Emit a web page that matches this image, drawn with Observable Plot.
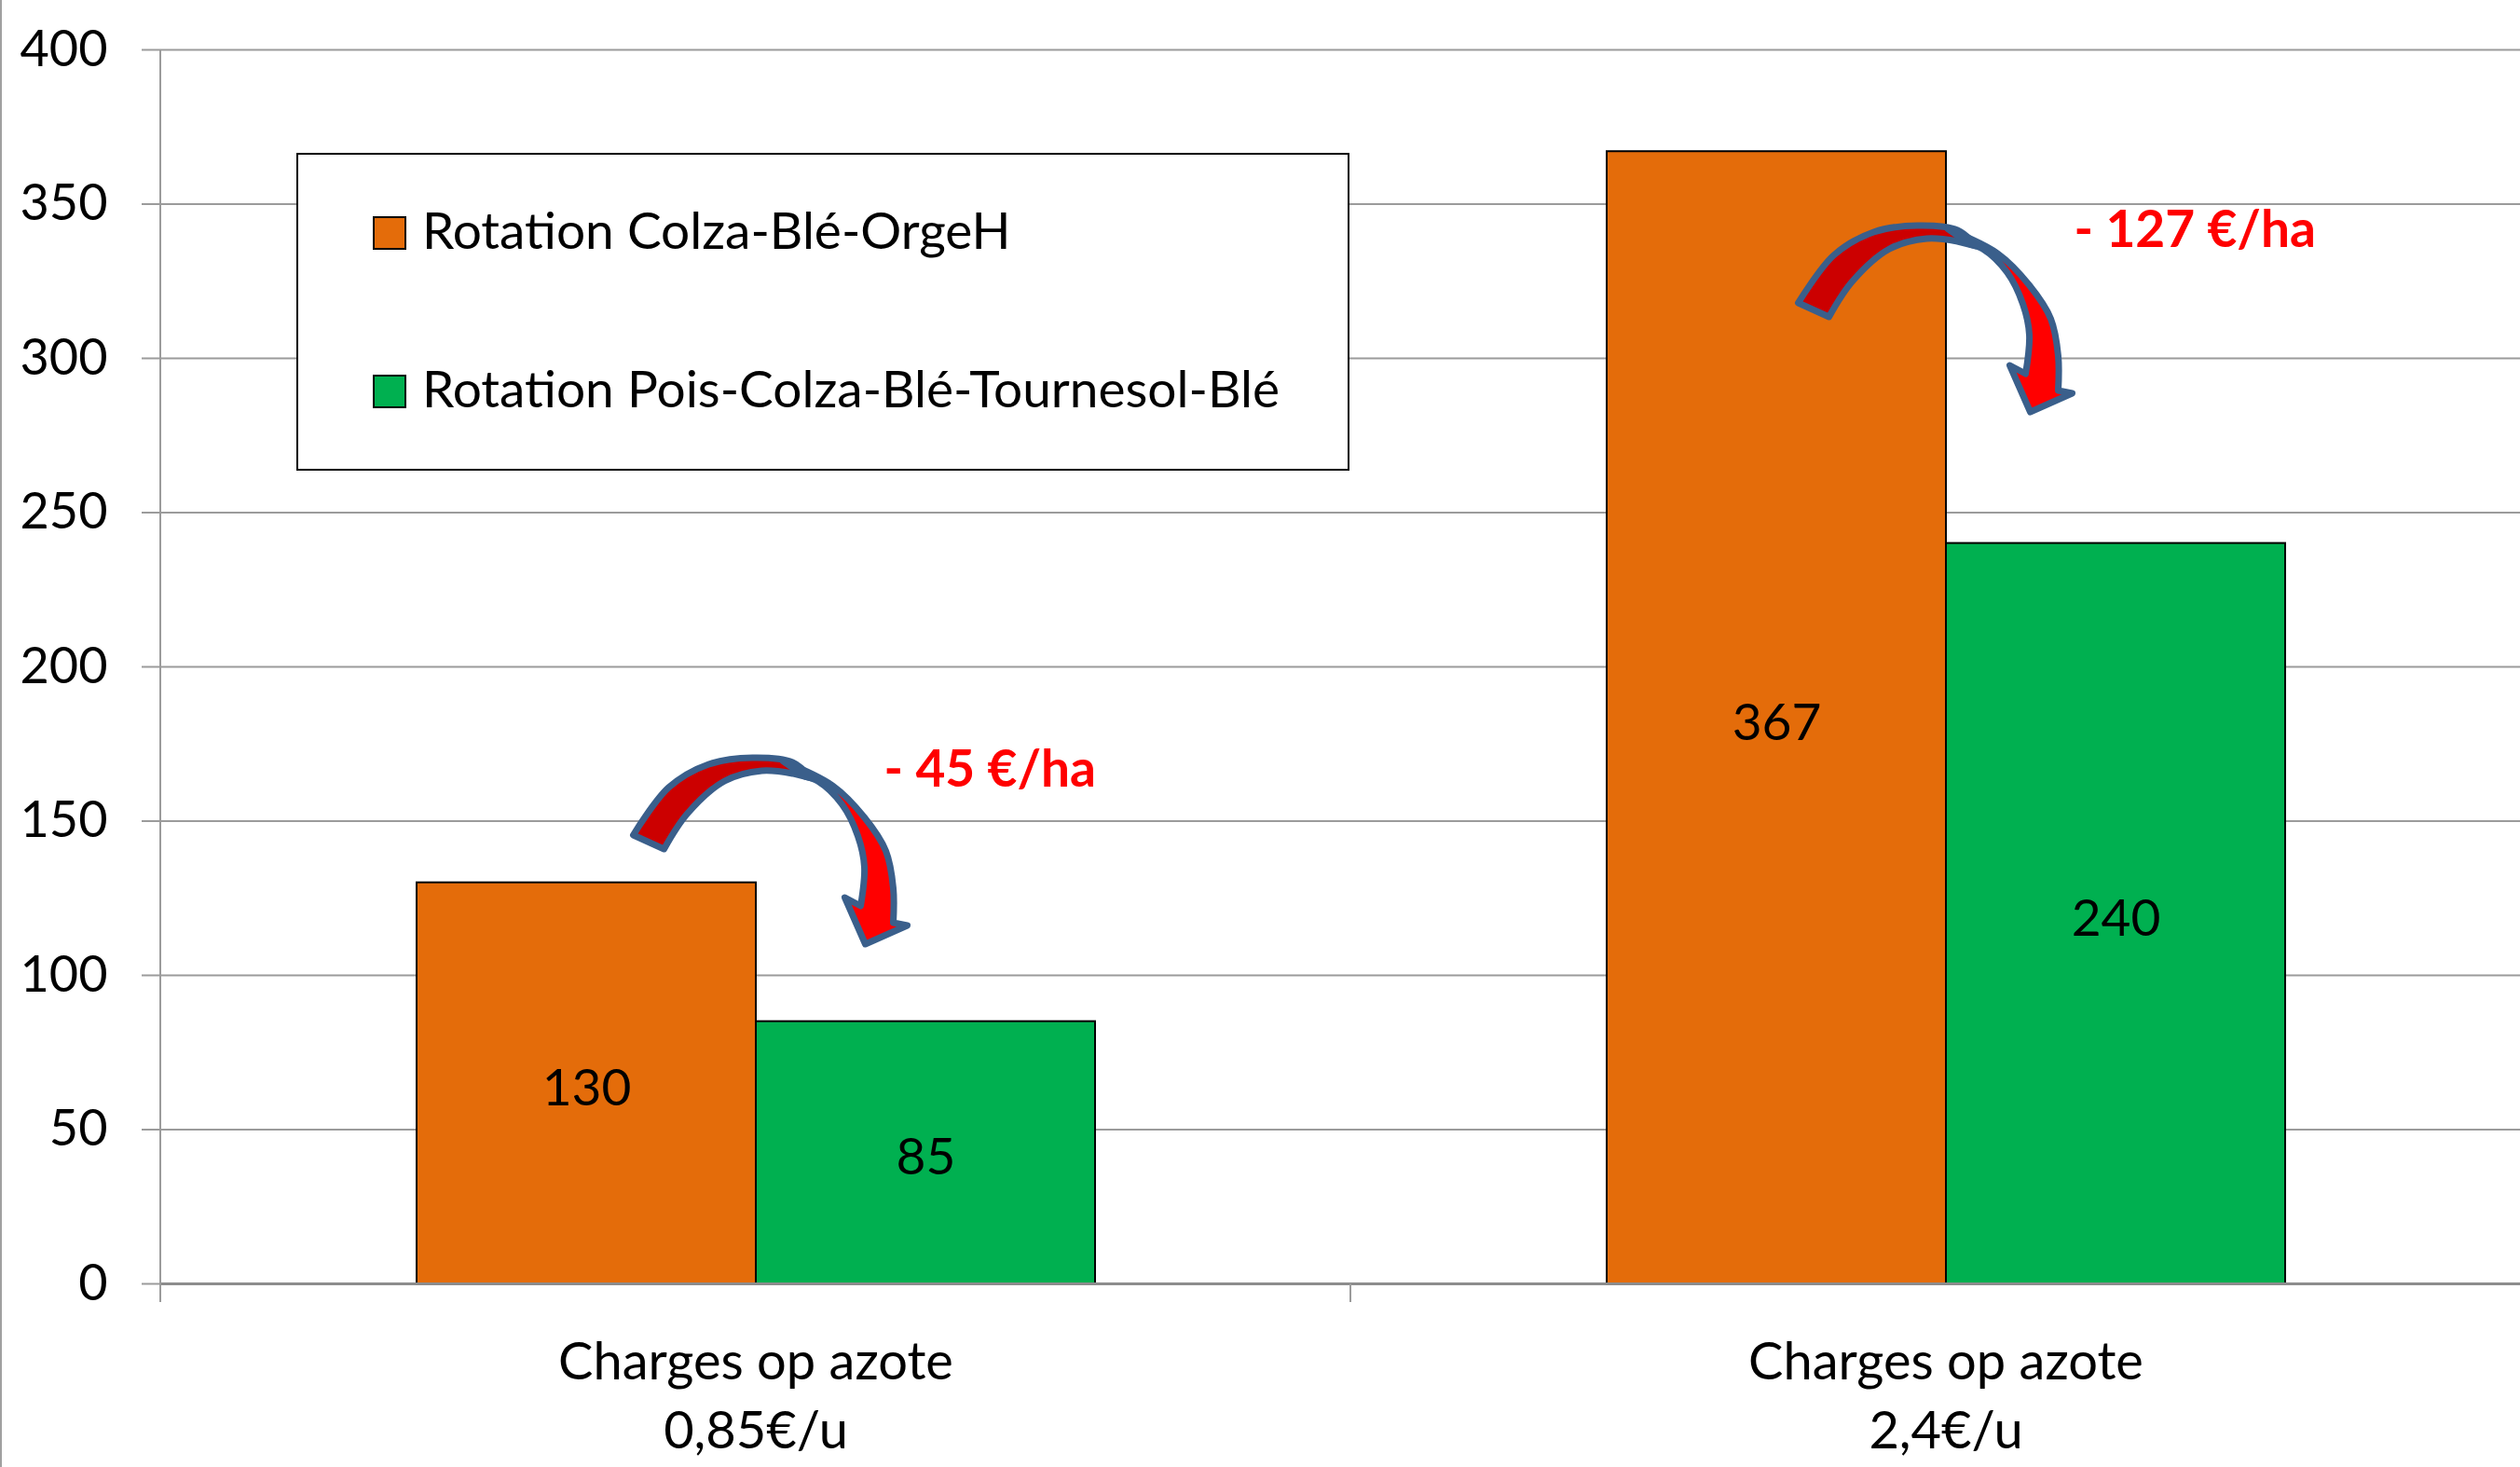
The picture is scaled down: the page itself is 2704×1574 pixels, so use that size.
<!DOCTYPE html>
<html>
<head>
<meta charset="utf-8">
<script src="https://cdn.jsdelivr.net/npm/d3@7"></script>
<script src="https://cdn.jsdelivr.net/npm/@observablehq/plot@0.6"></script>
<style>
  html, body { margin: 0; padding: 0; background: #fff; }
  #chart { position: relative; width: 2704px; height: 1574px; overflow: hidden; }
  #chart svg { display: block; }
</style>
</head>
<body>
<div id="chart"></div>
<script>
// ---- Data ----
const categories = ["Charges op azote\n0,85€/u", "Charges op azote\n2,4€/u"];
const series = ["Rotation Colza-Blé-OrgeH", "Rotation Pois-Colza-Blé-Tournesol-Blé"];
const colzaValues = [130, 367];
const poisValues = [85, 240];
const seriesColors = ["#E46C0A", "#00B050"];
const yTicks = [0, 50, 100, 150, 200, 250, 300, 350, 400];
const diffLabels = ["- 45 €/ha", "- 127 €/ha"];
const diffLabelY = [166.5, 341.5];   // value level of the difference label
const arrowTopY = [170.4, 342.9];    // value level of the top of each curved arrow
const arrowShift = [-4, -31];        // horizontal shift of arrow from group centre (px)

const rows = categories.flatMap((c, i) => [
  {category: c, series: series[0], value: colzaValues[i]},
  {category: c, series: series[1], value: poisValues[i]}
]);
const annotations = categories.map((c, i) => ({category: c, label: diffLabels[i], y: diffLabelY[i]}));

const FONT = "Lato, 'Open Sans', sans-serif";
const GRID = "#9b9b9b";

const chart = Plot.plot({
  width: 2704,
  height: 1574,
  marginTop: 53,
  marginBottom: 197,
  marginLeft: 172,
  marginRight: 0,
  style: {fontFamily: FONT, background: "white", color: "black"},
  fx: {domain: categories, range: [172, 2726], padding: 0, axis: null},
  x: {domain: series, paddingInner: 0, paddingOuter: 0.754, axis: null},
  y: {domain: [0, 400], axis: null},
  color: {domain: series, range: seriesColors},
  marks: [
    Plot.gridY(yTicks, {stroke: GRID, strokeOpacity: 1, strokeWidth: 2}),
    Plot.axisY(yTicks, {anchor: "left", tickSize: 20, tickPadding: 37, stroke: GRID, strokeWidth: 2,
      fill: "black", fontSize: 54, label: null, tickFormat: d => String(d)}),
    Plot.barY(rows, {fx: "category", x: "series", y: "value", fill: "series",
      stroke: "black", strokeWidth: 2, inset: 0}),
    Plot.ruleY([0], {stroke: "#8c8c8c", strokeWidth: 3}),
    Plot.text(rows, {fx: "category", x: "series", y: d => d.value / 2, text: d => String(d.value),
      fontSize: 55, fill: "black", dy: 6}),
    Plot.text(categories, {fx: d => d, text: d => d, frameAnchor: "bottom", lineAnchor: "top",
      dy: 50, lineHeight: 1.32, fontSize: 56, fill: "black"}),
    Plot.text(annotations, {fx: "category", x: () => series[1], y: "y", text: "label",
      textAnchor: "start", dx: -45, fill: "#FF0000", fontWeight: "bold", fontSize: 55})
  ]
});

document.getElementById("chart").appendChild(chart);

// ---- Decorations derived from the library's scales ----
const svg = d3.select(chart);
const fxD = chart.scale("fx");
const yD = chart.scale("y");
const fx = d3.scaleBand(fxD.domain, fxD.range)
  .paddingInner(fxD.paddingInner ?? 0).paddingOuter(fxD.paddingOuter ?? 0).align(fxD.align ?? 0.5);
const y = d3.scaleLinear(yD.domain, yD.range);

// axis lines: vertical y-axis line, and category boundary ticks
const y0 = y(0), yTop = y(400);
const r0 = fx.range()[0];
svg.append("line").attr("x1", r0).attr("x2", r0).attr("y1", yTop).attr("y2", y0 + 20)
  .attr("stroke", GRID).attr("stroke-width", 2);
for (let i = 1; i < categories.length; i++) {
  const bx = fx(categories[i]) - fx.step() * fx.paddingInner() / 2;
  svg.append("line").attr("x1", bx).attr("x2", bx).attr("y1", y0).attr("y2", y0 + 20)
    .attr("stroke", GRID).attr("stroke-width", 2);
}

// curved arrows (relative to top-outer point)
const line = d3.line().curve(d3.curveCatmullRom.alpha(0.5));
const darkOuter = [[-127,83],[-89,32],[-46,7],[1,0],[44,5],[64,22]];
const darkInner = [[-94,98],[-69,60],[-29,25],[11,14],[44,17]];
const brightOuter = [[34,4],[87,30],[121,64],[144,100],[152,140],[152,177]];
const brightHead = [[167,180],[122,200],[100,150]];
const brightInner = [[117,159],[121,117],[114,84],[97,50],[71,25],[57,20]];
function piece(outer, inner, mid) {
  let d = line(outer);
  if (mid) d += mid.map(p => "L" + p[0] + "," + p[1]).join("");
  d += line(inner).replace(/^M/, "L") + "Z";
  return d;
}
const darkPath = piece(darkOuter, darkInner.slice().reverse());
const brightPath = piece(brightOuter, brightInner, brightHead);

categories.forEach((c, i) => {
  const ax = fx(c) + fx.bandwidth() / 2 + arrowShift[i];
  const ay = y(arrowTopY[i]);
  const g = svg.append("g").attr("transform", `translate(${ax},${ay})`);
  g.append("path").attr("d", darkPath).attr("fill", "#CC0000")
    .attr("stroke", "#3A5F8B").attr("stroke-width", 7).attr("stroke-linejoin", "round");
  g.append("path").attr("d", brightPath).attr("fill", "#FF0000")
    .attr("stroke", "#3A5F8B").attr("stroke-width", 7).attr("stroke-linejoin", "round");
});

// move annotation text above arrows
svg.selectAll("g[aria-label='text']").raise();

// legend box
const lg = svg.append("g").attr("text-anchor", "start");
lg.append("rect").attr("x", 319).attr("y", 165).attr("width", 1128).attr("height", 339)
  .attr("fill", "white").attr("stroke", "black").attr("stroke-width", 2);
series.forEach((s, i) => {
  const top = 233 + i * 170;
  lg.append("rect").attr("x", 401).attr("y", top).attr("width", 34).attr("height", 34)
    .attr("fill", seriesColors[i]).attr("stroke", "black").attr("stroke-width", 2);
  lg.append("text").attr("x", 453).attr("y", top + 34).text(s)
    .attr("text-anchor", "start")
    .attr("font-family", FONT).attr("font-size", 55).attr("fill", "black");
});

// slide left border
svg.append("line").attr("x1", 1).attr("x2", 1).attr("y1", 0).attr("y2", 1574)
  .attr("stroke", "#a0a0a0").attr("stroke-width", 2);
</script>
</body>
</html>
